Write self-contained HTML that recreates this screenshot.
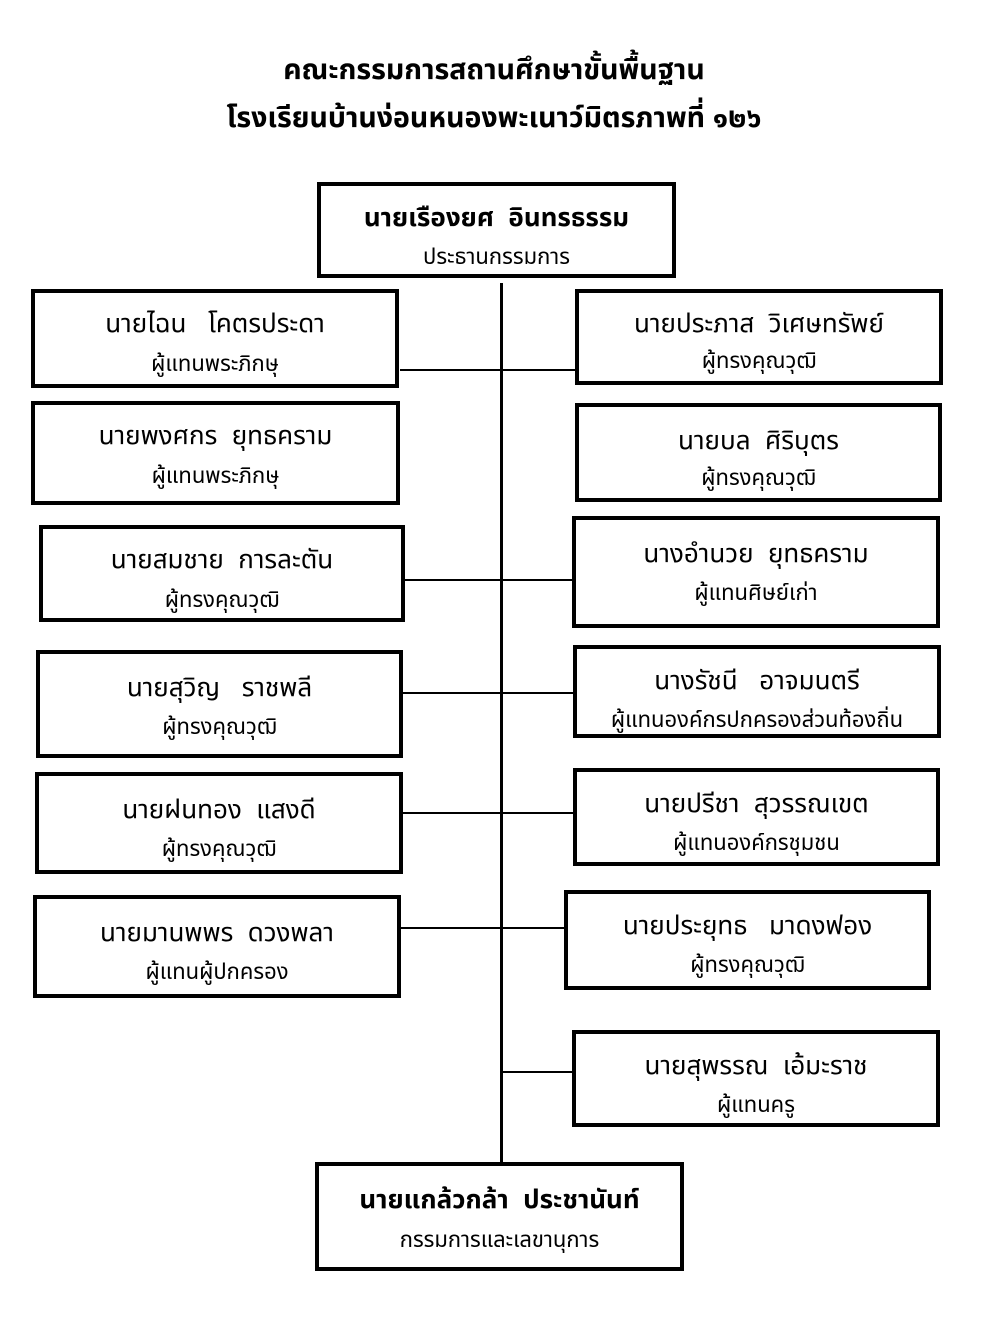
<!DOCTYPE html>
<html><head><meta charset="utf-8">
<style>
html,body{margin:0;padding:0;background:#fff;}
body{width:988px;height:1326px;position:relative;overflow:hidden;font-family:"Liberation Sans","Noto Sans Thai","Loma","Garuda","Tlwg Typo",sans-serif;color:#000;}
.t{position:absolute;left:0;width:988px;text-align:center;font-weight:bold;font-size:28.5px;line-height:1;}
.b{position:absolute;border:4px solid #000;box-sizing:border-box;text-align:center;background:#fff;}
.b .n{position:absolute;left:0;right:0;font-size:26px;line-height:1;white-space:nowrap;}
.b .r{position:absolute;left:0;right:0;font-size:22px;line-height:1;white-space:nowrap;}
.l{position:absolute;background:#000;}
</style></head><body>
<div class="t" style="top:56px">คณะกรรมการสถานศึกษาขั้นพื้นฐาน</div>
<div class="t" style="top:104px">โรงเรียนบ้านง่อนหนองพะเนาว์มิตรภาพที่ ๑๒๖</div>

<div class="l" style="left:500px;top:283px;width:3px;height:880px"></div>
<div class="l" style="left:400px;top:369px;width:176px;height:2px"></div>
<div class="l" style="left:403px;top:579px;width:170px;height:2px"></div>
<div class="l" style="left:401px;top:692px;width:173px;height:2px"></div>
<div class="l" style="left:401px;top:812px;width:173px;height:2px"></div>
<div class="l" style="left:399px;top:927px;width:166px;height:2px"></div>
<div class="l" style="left:503px;top:1071px;width:74px;height:2px"></div>

<div class="b" style="left:317px;top:182px;width:359px;height:96px"><div class="n" style="top:18px;font-weight:bold">นายเรืองยศ&nbsp; อินทรธรรม</div><div class="r" style="top:60px">ประธานกรรมการ</div></div>

<div class="b" style="left:31px;top:289px;width:368px;height:99px"><div class="n" style="top:17px">นายไฉน&nbsp;&nbsp; โคตรประดา</div><div class="r" style="top:60px">ผู้แทนพระภิกษุ</div></div>
<div class="b" style="left:31px;top:401px;width:369px;height:104px"><div class="n" style="top:17px">นายพงศกร&nbsp; ยุทธคราม</div><div class="r" style="top:60px">ผู้แทนพระภิกษุ</div></div>
<div class="b" style="left:39px;top:525px;width:366px;height:97px"><div class="n" style="top:17px">นายสมชาย&nbsp; การละตัน</div><div class="r" style="top:60px">ผู้ทรงคุณวุฒิ</div></div>
<div class="b" style="left:36px;top:650px;width:367px;height:108px"><div class="n" style="top:20px">นายสุวิญ&nbsp;&nbsp; ราชพลี</div><div class="r" style="top:62px">ผู้ทรงคุณวุฒิ</div></div>
<div class="b" style="left:35px;top:772px;width:368px;height:102px"><div class="n" style="top:20px">นายฝนทอง&nbsp; แสงดี</div><div class="r" style="top:62px">ผู้ทรงคุณวุฒิ</div></div>
<div class="b" style="left:33px;top:895px;width:368px;height:103px"><div class="n" style="top:20px">นายมานพพร&nbsp; ดวงพลา</div><div class="r" style="top:62px">ผู้แทนผู้ปกครอง</div></div>

<div class="b" style="left:575px;top:289px;width:368px;height:96px"><div class="n" style="top:17px">นายประภาส&nbsp; วิเศษทรัพย์</div><div class="r" style="top:57px">ผู้ทรงคุณวุฒิ</div></div>
<div class="b" style="left:575px;top:403px;width:367px;height:99px"><div class="n" style="top:20px">นายบล&nbsp; ศิริบุตร</div><div class="r" style="top:60px">ผู้ทรงคุณวุฒิ</div></div>
<div class="b" style="left:572px;top:516px;width:368px;height:112px"><div class="n" style="top:20px">นางอำนวย&nbsp; ยุทธคราม</div><div class="r" style="top:62px">ผู้แทนศิษย์เก่า</div></div>
<div class="b" style="left:573px;top:645px;width:368px;height:93px"><div class="n" style="top:18px">นางรัชนี&nbsp;&nbsp; อาจมนตรี</div><div class="r" style="top:60px">ผู้แทนองค์กรปกครองส่วนท้องถิ่น</div></div>
<div class="b" style="left:573px;top:768px;width:367px;height:98px"><div class="n" style="top:18px">นายปรีชา&nbsp; สุวรรณเขต</div><div class="r" style="top:60px">ผู้แทนองค์กรชุมชน</div></div>
<div class="b" style="left:564px;top:890px;width:367px;height:100px"><div class="n" style="top:18px">นายประยุทธ&nbsp;&nbsp; มาดงฟอง</div><div class="r" style="top:60px">ผู้ทรงคุณวุฒิ</div></div>
<div class="b" style="left:572px;top:1030px;width:368px;height:97px"><div class="n" style="top:18px">นายสุพรรณ&nbsp; เอ้มะราช</div><div class="r" style="top:60px">ผู้แทนครู</div></div>

<div class="b" style="left:315px;top:1162px;width:369px;height:109px"><div class="n" style="top:20px;font-weight:bold">นายแกล้วกล้า&nbsp; ประชานันท์</div><div class="r" style="top:63px">กรรมการและเลขานุการ</div></div>
</body></html>
